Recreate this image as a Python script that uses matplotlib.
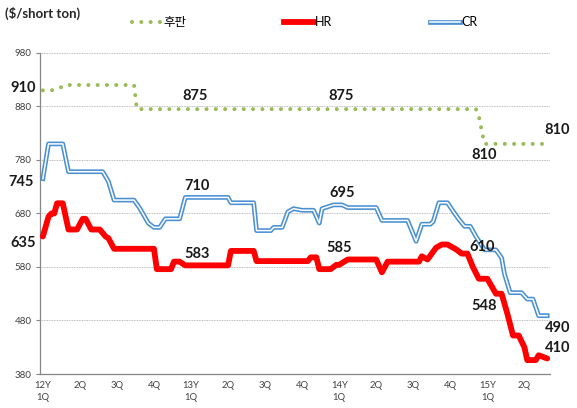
import matplotlib
matplotlib.use('Agg')
import matplotlib.pyplot as plt
from matplotlib.lines import Line2D
from matplotlib.legend_handler import HandlerTuple

plt.rcParams['font.family'] = ['Lato', 'Noto Sans CJK KR', 'DejaVu Sans']

# x = weeks from start of 2012 (13 weeks per quarter), values in $/short ton
plate_weeks = [0, 3, 6, 8, 32, 33, 152, 153, 154, 155, 177]
plate_vals = [910, 910, 915, 920, 920, 875, 875, 862, 835, 810, 810]

hr_weeks = [0, 2, 3, 4, 5, 7, 9, 12, 14, 15, 17, 20, 22, 23, 25, 39, 40, 45,
            46, 48, 50, 65, 66, 74, 75, 93, 94, 96, 97, 101, 103, 104, 107,
            117, 119, 121, 132, 133, 135, 138, 140, 142, 145, 147, 149, 151,
            153, 156, 159, 161, 163, 165, 167, 169, 170, 173, 174, 177]
hr_vals = [637, 674, 680, 680, 699, 699, 650, 650, 670, 670, 650, 650, 637,
           634, 614, 614, 576, 576, 590, 590, 583, 583, 610, 610, 591, 591,
           598, 598, 576, 576, 584, 584, 594, 594, 570, 590, 590, 600, 594,
           616, 622, 622, 613, 605, 605, 579, 558, 558, 530, 530, 493, 452,
           452, 430, 406, 406, 415, 409]

cr_weeks = [0, 2, 7, 9, 21, 23, 25, 32, 34, 37, 39, 41, 43, 48, 50, 65, 66,
            74, 75, 80, 81, 84, 86, 88, 91, 95, 97, 98, 102, 105, 107, 117,
            119, 128, 131, 133, 136, 137, 139, 142, 144, 146, 148, 150, 152,
            155, 159, 161, 162, 164, 168, 170, 172, 174, 177]
cr_vals = [745, 810, 810, 758, 758, 740, 705, 705, 690, 662, 654, 654, 670,
           670, 710, 710, 700, 700, 648, 648, 654, 654, 683, 689, 686, 686,
           662, 689, 696, 696, 691, 691, 667, 667, 628, 660, 660, 665, 700,
           700, 684, 669, 656, 656, 637, 612, 612, 597, 567, 532, 532, 520,
           520, 489, 489]

tick_weeks = [0, 13, 26, 39, 52, 65, 78, 91, 104, 117, 130, 143, 156, 169]
tick_labels = ['12Y\n1Q', '2Q', '3Q', '4Q', '13Y\n1Q', '2Q', '3Q', '4Q',
               '14Y\n1Q', '2Q', '3Q', '4Q', '15Y\n1Q', '2Q']

# value labels: text, x (week), y ($), horizontal alignment
label_texts = ['910', '745', '635', '875', '875', '810', '810', '710', '583',
               '695', '585', '610', '548', '490', '410']
label_x = [-2.4, -3.3, -2.6, 53.5, 104.5, 154.7, 180.5, 54, 54,
           105, 104, 154.2, 155, 180.6, 180.6]
label_y = [914, 738, 624, 900, 900, 789, 836, 731, 604,
           718, 615, 617, 507, 466, 429]
label_ha = ['right', 'right', 'right', 'center', 'center', 'center', 'center',
            'center', 'center', 'center', 'center', 'center', 'center',
            'center', 'center']

plate_color = '#9BBB59'
hr_color = '#FF0000'
cr_color = '#4A90D2'

fig = plt.figure(figsize=(5.77, 4.08), dpi=100)
ax = fig.add_axes([0.0693, 0.0833, 0.884, 0.787])

# plate: round dots
ax.plot(plate_weeks, plate_vals, color=plate_color, linewidth=2.9,
        linestyle=(0, (0.01, 2.3)), dash_capstyle='round', zorder=3)
# HR: thick red
ax.plot(hr_weeks, hr_vals, color=hr_color, linewidth=4.2,
        solid_joinstyle='round', solid_capstyle='round', zorder=4)
# CR: double line (blue outline, white core)
ax.plot(cr_weeks, cr_vals, color=cr_color, linewidth=3.4,
        solid_joinstyle='round', zorder=3)
ax.plot(cr_weeks, cr_vals, color='white', linewidth=1.1,
        solid_joinstyle='round', zorder=3)

for t, x, y, ha in zip(label_texts, label_x, label_y, label_ha):
    ax.text(x, y, t, ha=ha, va='center', fontsize=10.5, fontweight='bold',
            color='#1A1A1A', zorder=6)

ax.set_xlim(-1, 178)
ax.set_ylim(380, 980)
ax.set_yticks(range(380, 981, 100))
ax.set_xticks(tick_weeks)
ax.set_xticklabels(tick_labels, fontsize=6.8, color='#404040', linespacing=1.5)
ax.tick_params(axis='y', labelsize=7, colors='#404040', length=3,
               width=0.8, direction='out', pad=3)
ax.tick_params(axis='y', color='#868686')
ax.tick_params(axis='x', length=0, pad=5)

ax.grid(axis='y', linestyle=(0, (1, 1)), color='#A6A6A6', linewidth=0.6)
ax.set_axisbelow(True)
for s in ['top', 'right']:
    ax.spines[s].set_visible(False)
for s in ['left', 'bottom']:
    ax.spines[s].set_color('#868686')
    ax.spines[s].set_linewidth(0.9)

fig.text(0.009, 0.968, '($/short ton)', fontsize=9.5, fontweight='bold',
         color='#262626', va='center', ha='left')

# legend with custom handles
h_plate = Line2D([], [], color=plate_color, linewidth=2.9,
                 linestyle=(0, (0.01, 2.3)), dash_capstyle='round')
h_hr = Line2D([], [], color=hr_color, linewidth=4.2)
h_cr = (Line2D([], [], color=cr_color, linewidth=3.4),
        Line2D([], [], color='white', linewidth=1.1))
fig.legend([h_plate, h_hr, h_cr], ['후판', 'HR', 'CR'], ncol=3,
           loc='center', bbox_to_anchor=(0.528, 0.945), frameon=False,
           fontsize=9, handlelength=2.4, handletextpad=0.1,
           columnspacing=7.8,
           handler_map={tuple: HandlerTuple(ndivide=1)})

plt.savefig('out.png', dpi=100)
